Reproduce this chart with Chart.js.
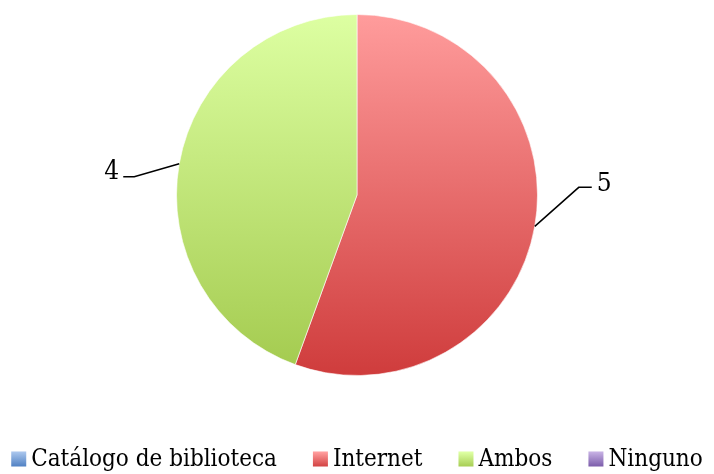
<!DOCTYPE html>
<html>
<head>
<meta charset="utf-8">
<script src="https://cdn.jsdelivr.net/npm/chart.js@4.4.1/dist/chart.umd.min.js"></script>
<style>
  html, body { margin: 0; padding: 0; background: #fff; }
  #wrap { width: 714px; height: 474px; }
</style>
</head>
<body>
<div id="wrap"><canvas id="pieChart" width="714" height="474"></canvas></div>
<script>
// data
const categories = ['Catálogo de biblioteca', 'Internet', 'Ambos', 'Ninguno'];
const counts = [0, 5, 4, 0];
// top / bottom colours of each slice gradient
const topColors = ['#A7C4EC', '#FF9C9C', '#DDFFA2', '#C4AEE2'];
const bottomColors = ['#4A7CC0', '#CF3C3C', '#A3CA4E', '#7656A6'];

const serif = '"DejaVu Serif Condensed", "DejaVu Serif", serif';

// leader line + value label drawn from the arc geometry
const leaderLabels = {
    id: 'leaderLabels',
    afterDatasetsDraw(chart) {
        const ctx = chart.ctx;
        const meta = chart.getDatasetMeta(0);
        ctx.save();
        ctx.strokeStyle = '#000';
        ctx.lineWidth = 1.5;
        ctx.fillStyle = '#000';
        ctx.font = '26px ' + serif;
        ctx.textBaseline = 'alphabetic';
        meta.data.forEach((arc, i) => {
            if (!counts[i]) return;
            const mid = (arc.startAngle + arc.endAngle) / 2;
            const ex = arc.x + Math.cos(mid) * arc.outerRadius;
            const ey = arc.y + Math.sin(mid) * arc.outerRadius;
            const right = Math.cos(mid) >= 0;
            let kx, ky, hx;
            if (right) {
                kx = ex + 44; ky = ey - 39; hx = kx + 13;
            } else {
                kx = ex - 45; ky = ey + 13; hx = kx - 11;
            }
            ctx.beginPath();
            ctx.moveTo(ex, ey);
            ctx.lineTo(kx, ky);
            ctx.lineTo(hx, ky);
            ctx.stroke();
            if (right) {
                ctx.textAlign = 'left';
                ctx.fillText(String(counts[i]), hx + 5, ky + 4);
            } else {
                ctx.textAlign = 'right';
                ctx.fillText(String(counts[i]), hx - 4, ky + 2);
            }
        });
        ctx.restore();
    }
};

// legend row at the bottom, boxes with their own small gradients
const bottomLegend = {
    id: 'bottomLegend',
    afterDraw(chart) {
        const ctx = chart.ctx;
        const box = 15, gapBox = 5, gapItem = 36, y = 460;
        ctx.save();
        ctx.font = '24px ' + serif;
        ctx.textBaseline = 'middle';
        ctx.textAlign = 'left';
        const widths = categories.map(t => box + gapBox + ctx.measureText(t).width);
        const total = widths.reduce((a, b) => a + b, 0) + gapItem * (categories.length - 1);
        let x = (chart.width - total) / 2;
        categories.forEach((t, i) => {
            const g = ctx.createLinearGradient(0, y - box / 2, 0, y + box / 2);
            g.addColorStop(0, topColors[i]);
            g.addColorStop(1, bottomColors[i]);
            ctx.fillStyle = g;
            ctx.fillRect(x, y - box / 2 - 1, box, box);
            ctx.fillStyle = '#000';
            ctx.fillText(t, x + box + gapBox, y);
            x += widths[i] + gapItem;
        });
        ctx.restore();
    }
};

new Chart(document.getElementById('pieChart'), {
    type: 'pie',
    data: {
        labels: categories,
        datasets: [{
            data: counts,
            backgroundColor: (c) => {
                const area = c.chart.chartArea;
                if (!area) return bottomColors[c.dataIndex];
                const g = c.chart.ctx.createLinearGradient(0, area.top, 0, area.bottom);
                g.addColorStop(0, topColors[c.dataIndex]);
                g.addColorStop(1, bottomColors[c.dataIndex]);
                return g;
            },
            borderColor: 'rgba(255,255,255,0.6)',
            borderWidth: 1
        }]
    },
    options: {
        responsive: false,
        animation: false,
        layout: { padding: { top: 14, bottom: 98 } },
        plugins: {
            legend: { display: false },
            tooltip: { enabled: false }
        }
    },
    plugins: [leaderLabels, bottomLegend]
});
</script>
</body>
</html>
